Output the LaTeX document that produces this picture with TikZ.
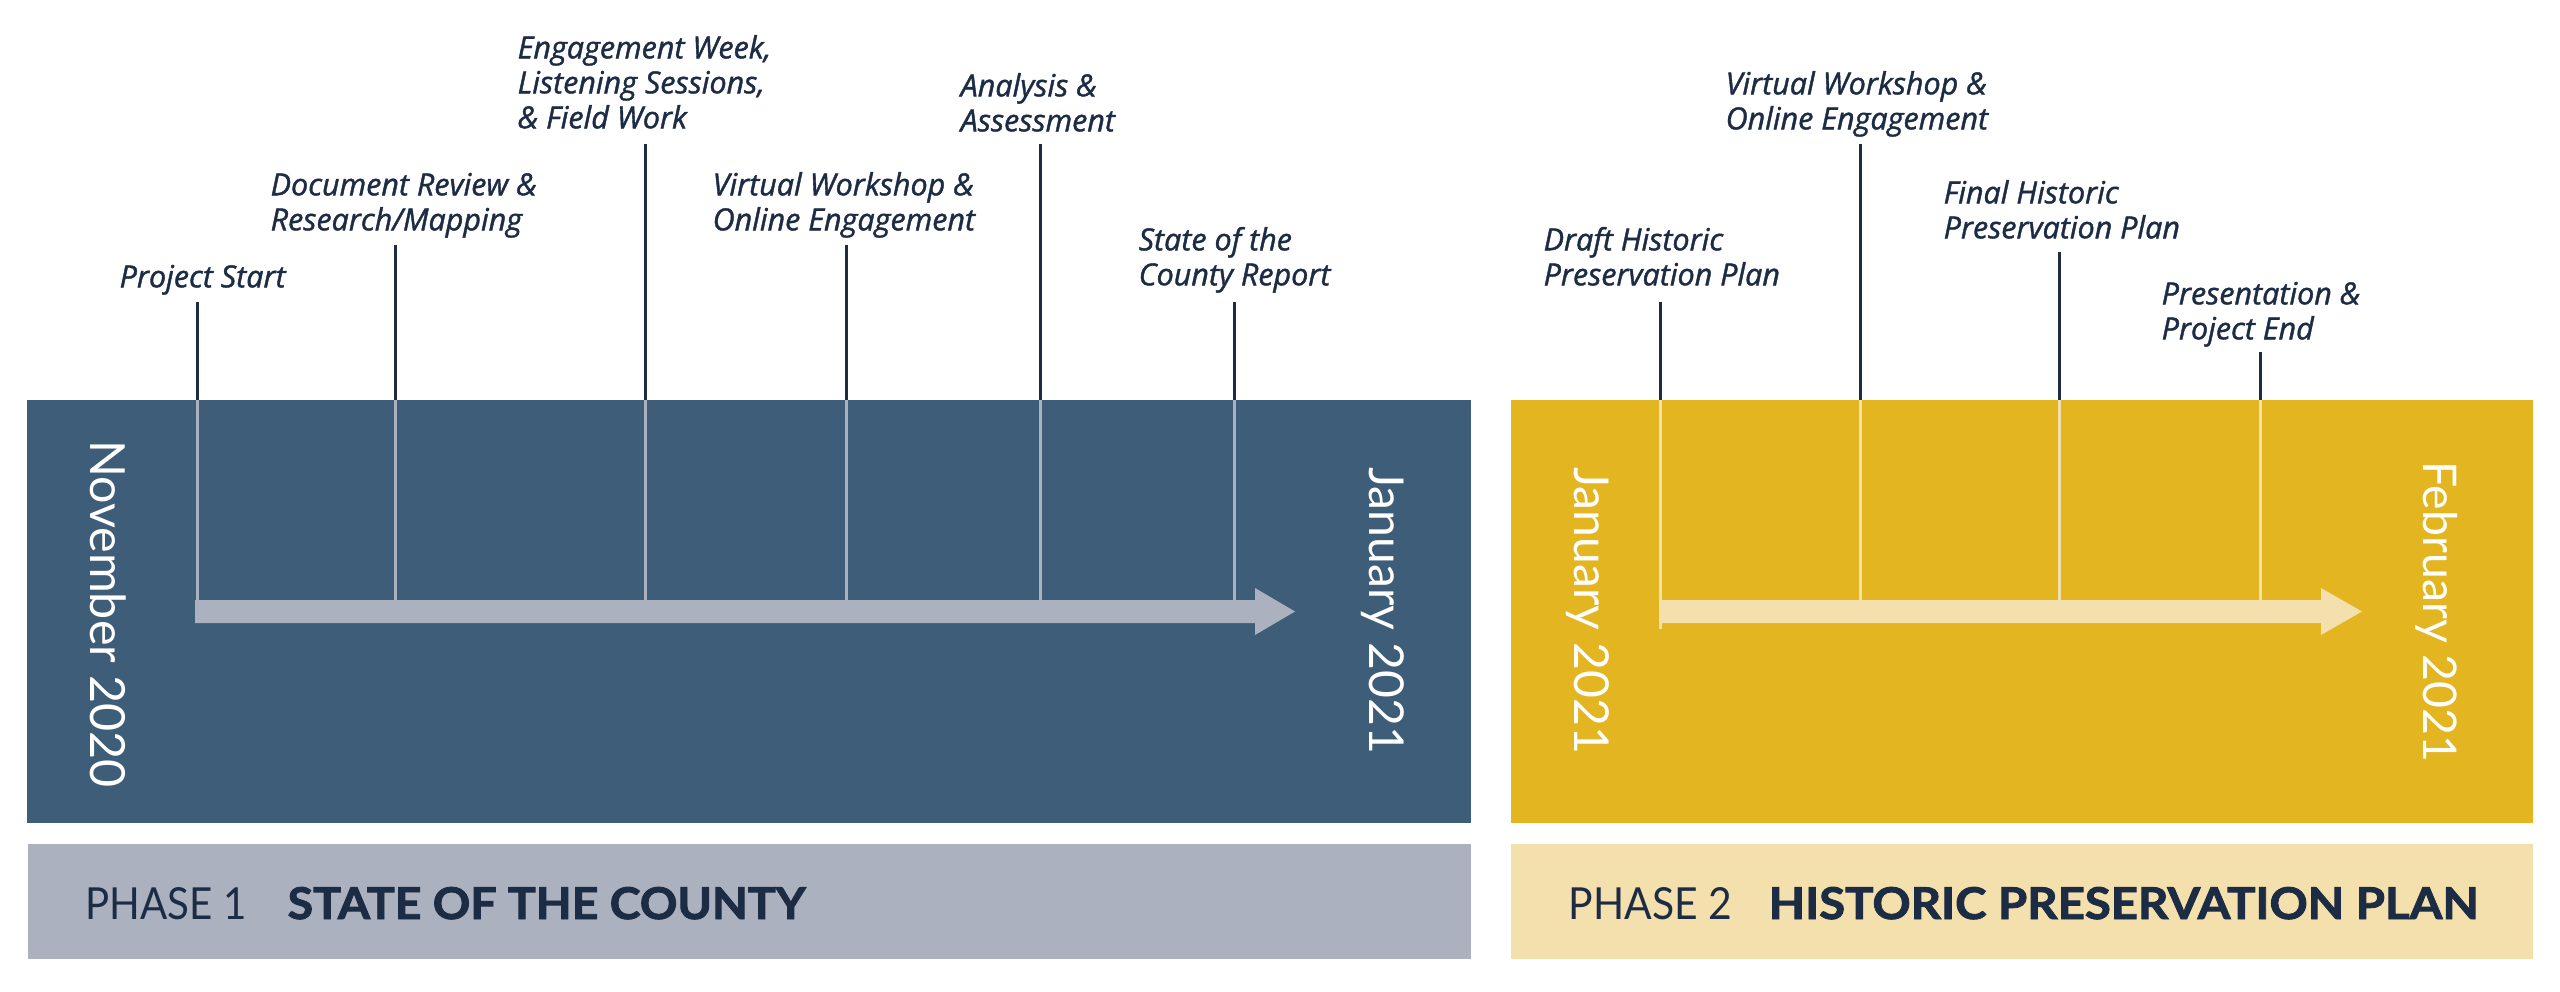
\documentclass[tikz,border=0pt]{standalone}
\usepackage{graphicx}
\usepackage{fontspec}
\setmainfont{Lato}
\newfontfamily\labelfont{Open Sans}[FakeBold=1.3]
\newfontfamily\heavyfont{Lato}[FakeBold=2]
\definecolor{bluebox}{HTML}{3E5D78}
\definecolor{grayl}{HTML}{ABB1BF}
\definecolor{navy}{HTML}{1D2C45}
\definecolor{gold}{HTML}{E2B521}
\definecolor{goldl}{HTML}{F4E0AC}
\begin{document}
\begin{tikzpicture}[x=0.3pt,y=-0.3pt,
  lbl/.style={anchor=south west, inner sep=0pt, align=left, text depth=0pt,
    font=\labelfont\itshape\fontsize{9.15}{10.5}\selectfont, text=navy},
  datelbl/.style={rotate=-90, anchor=base, inner sep=0pt, text=white,
    font=\fontsize{16.7}{20}\selectfont},
  phaselbl/.style={anchor=base west, inner sep=0pt, text=navy},
  tickline/.style={line width=0.9pt}]
\useasboundingbox (0,0) rectangle (2560,992);
\fill[white] (0,0) rectangle (2560,992);
% boxes
\fill[bluebox] (27,400) rectangle (1471,823);
\fill[gold] (1511,400) rectangle (2533,823);
\fill[grayl] (28,844) rectangle (1471,959);
\fill[goldl] (1511,844) rectangle (2533,959);
% ticks
\foreach \x/\t/\c [count=\i] in {197/302/grayl, 395/245/grayl, 645/144/grayl, 846/245/grayl, 1040/144/grayl, 1234/302/grayl, 1660/302/goldl, 1860/144/goldl, 2059/252/goldl, 2260/352/goldl} {
  \coordinate (tt\i) at (\x,\t);
  \coordinate (tb\i) at (\x,400);
  \coordinate (tc\i) at (\x,600);
  \draw[tickline, navy] (tt\i) -- (tb\i);
  \draw[tickline, \c] (tb\i) -- (tc\i);
}
\coordinate (tx7) at (1660,629);
\draw[tickline, goldl] (tb7) -- (tx7);
% arrows
\fill[grayl] (195,600) -- (1255,600) -- (1255,588) -- (1295,611.5) -- (1255,635) -- (1255,623) -- (195,623) -- cycle;
\fill[goldl] (1659,600) -- (2321,600) -- (2321,588) -- (2362,611.5) -- (2321,635) -- (2321,623) -- (1659,623) -- cycle;
% labels
\node[lbl] (l1) at (119,288) {Project Start};
\node[lbl] (l2) at (270,231) {Document Review \&\\Research/Mapping};
\node[lbl] (l3) at (517,129) {Engagement Week,\\Listening Sessions,\\\& Field Work};
\node[lbl] (l4) at (712,231) {Virtual Workshop \&\\Online Engagement};
\node[lbl] (l5) at (960,132) {Analysis \&\\Assessment};
\node[lbl] (l6) at (1138,286) {State of the\\County Report};
\node[lbl] (l7) at (1543,286) {Draft Historic\\Preservation Plan};
\node[lbl] (l8) at (1725,130) {Virtual Workshop \&\\Online Engagement};
\node[lbl] (l9) at (1943,239) {Final Historic\\Preservation Plan};
\node[lbl] (l10) at (2161,340) {Presentation \&\\Project End};
% dates
\node[datelbl] (d1) at (90,614) {\resizebox{104.4pt}{!}{November 2020}};
\node[datelbl] (d2) at (1369,611) {\resizebox{86.1pt}{!}{January 2021}};
\node[datelbl] (d3) at (1574,611) {\resizebox{86.1pt}{!}{January 2021}};
\node[datelbl] (d4) at (2423,612) {\resizebox{90.3pt}{!}{February 2021}};
% phases
\node[phaselbl] (p1) at (85,919) {\resizebox{48.3pt}{9.6pt}{PHASE 1}};
\node[phaselbl] (p1t) at (287,919) {\resizebox{155.4pt}{9.6pt}{\heavyfont\bfseries STATE OF THE COUNTY}};
\node[phaselbl] (p2) at (1568,919) {\resizebox{49pt}{9.6pt}{PHASE 2}};
\node[phaselbl] (p2t) at (1768,919) {\resizebox{213pt}{9.6pt}{\heavyfont\bfseries HISTORIC PRESERVATION PLAN}};
\end{tikzpicture}
\end{document}
